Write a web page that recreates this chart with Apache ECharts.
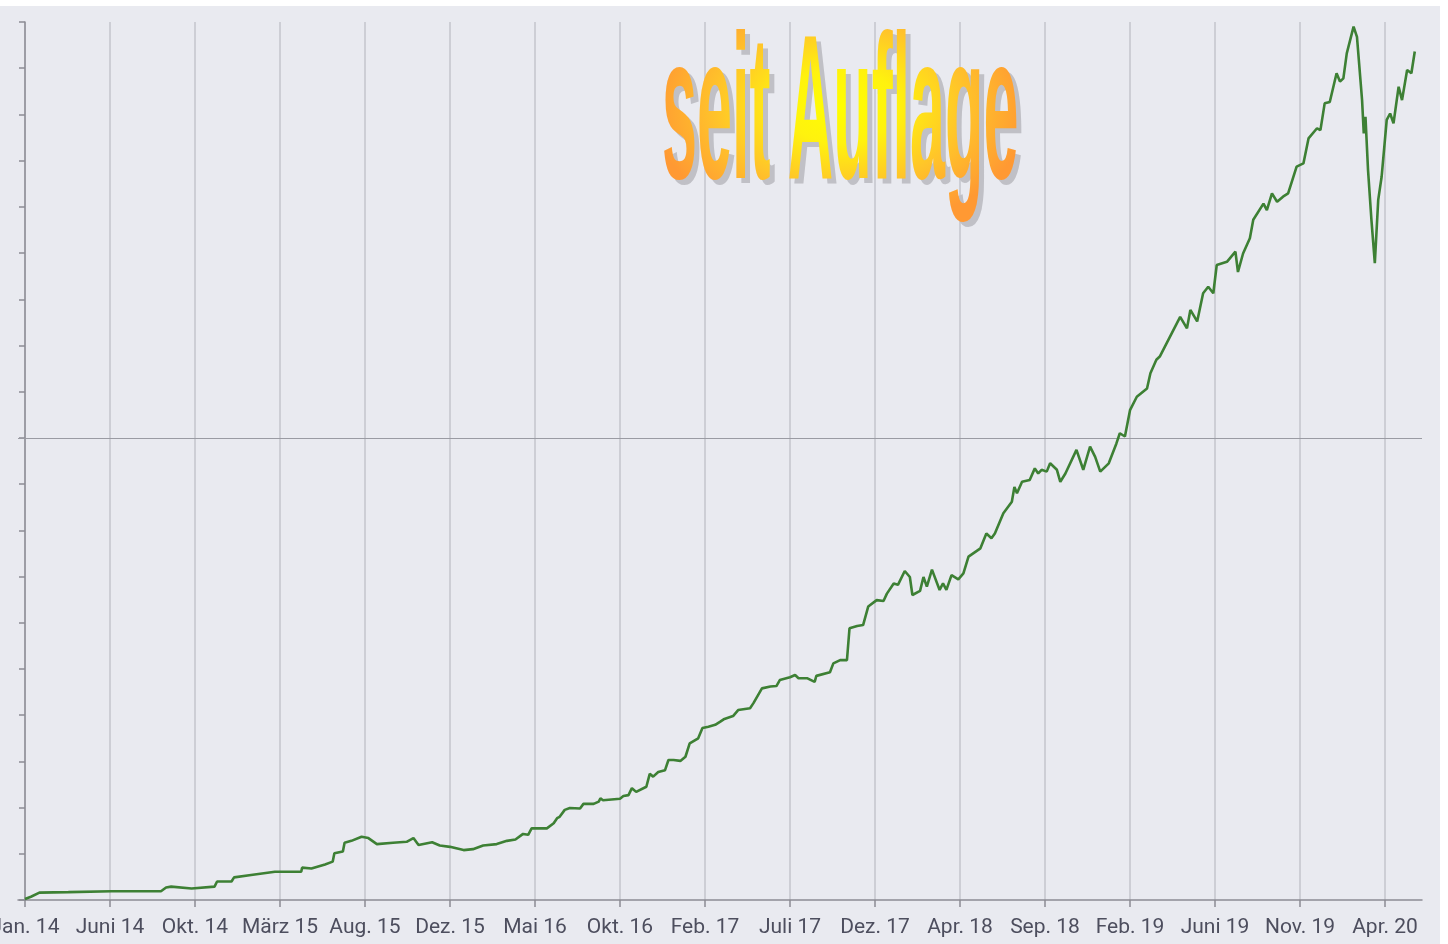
<!DOCTYPE html>
<html>
<head>
<meta charset="utf-8">
<script src="https://cdn.jsdelivr.net/npm/echarts@6/dist/echarts.min.js"></script>
<style>
html,body{margin:0;padding:0;background:#ffffff;width:1448px;height:944px;overflow:hidden;}
#c{position:absolute;left:0;top:6px;width:1440px;height:938px;}
</style>
</head>
<body>
<div id="c"></div>
<script>
// tick labels of the x axis (evenly spaced, one every 100 index units)
const tickLabels = ['Jan. 14','Juni 14','Okt. 14','März 15','Aug. 15','Dez. 15','Mai 16','Okt. 16','Feb. 17','Juli 17','Dez. 17','Apr. 18','Sep. 18','Feb. 19','Juni 19','Nov. 19','Apr. 20'];
const tickValues = [0,100,200,300,400,500,600,700,800,900,1000,1100,1200,1300,1400,1500,1600];
// performance since inception (%)
const xs = [0,7,17,51,102,160,166,172,196,223,
226,243,246,266,294,325,326,337,353,362,
364,374,376,384,396,404,414,433,449,457,
463,479,488,500,516,527,539,555,567,577,
586,592,596,614,622,626,629,635,641,653,
657,669,675,677,680,700,704,710,714,719,
731,735,739,745,753,757,763,771,777,782,
792,797,804,812,818,822,833,839,853,857,
867,877,884,888,900,906,910,920,929,931,
947,951,959,967,970,979,986,992,1002,1010,
1014,1022,1027,1035,1041,1044,1053,1057,1061,1067,
1076,1080,1084,1090,1098,1104,1110,1124,1131,1137,
1141,1151,1161,1164,1167,1173,1182,1188,1192,1196,
1202,1206,1214,1218,1224,1237,1245,1253,1259,1265,
1275,1284,1288,1294,1300,1308,1320,1324,1331,1335,
1359,1367,1371,1379,1386,1392,1398,1402,1414,1424,
1427,1433,1441,1445,1457,1461,1467,1473,1480,1486,
1496,1504,1510,1520,1524,1529,1535,1543,1547,1551,
1555,1563,1567,1573,1575,1577,1580,1584,1588,1592,
1596,1602,1606,1610,1616,1620,1626,1631,1635];
const ys = [0.2,0.7,1.6,1.7,1.9,1.9,2.7,2.9,2.5,2.9,
4.0,4.0,4.9,5.4,6.1,6.1,7.0,6.8,7.7,8.3,
10.1,10.5,12.4,12.8,13.7,13.4,12.1,12.4,12.6,13.4,
11.9,12.5,11.8,11.5,10.8,11.0,11.8,12.1,12.8,13.1,
14.3,14.1,15.5,15.5,16.6,17.7,18.0,19.5,19.9,19.8,
20.8,20.8,21.3,22.0,21.6,21.9,22.5,22.7,24.2,23.4,
24.5,27.3,26.7,27.7,28.1,30.3,30.3,30.1,31.0,33.9,
35.0,37.2,37.5,37.9,38.6,39.1,39.8,41.1,41.5,42.6,
45.8,46.2,46.3,47.6,48.2,48.7,48.0,48.0,47.2,48.5,
49.3,51.2,51.9,51.9,58.8,59.3,59.5,63.5,64.9,64.7,
66.3,68.5,68.2,71.2,69.9,66.0,66.9,69.9,67.8,71.5,
67.1,68.5,67.1,70.3,69.4,70.7,74.3,76.1,79.3,78.3,
79.3,83.7,86.2,89.4,88.0,90.5,90.9,93.4,92.3,93.1,
92.7,94.5,93.1,90.5,92.3,97.4,93.1,98.1,95.9,92.7,
94.5,98.8,101.0,100.3,106.0,108.9,110.7,114.0,116.9,117.6,
126.2,123.7,127.7,125.2,131.3,132.7,131.3,137.4,138.1,140.3,
135.9,139.9,143.2,147.2,150.7,149.3,152.9,151.1,152.2,152.9,
158.7,159.4,164.8,167.0,166.6,172.4,172.7,178.9,177.1,177.8,
183.2,189.0,186.8,173.1,165.9,169.5,158.0,147.2,137.8,151.5,
156.5,168.8,170.2,168.1,176.0,173.1,179.6,178.9,183.6];
const refLevel = 100;
const titleText = 'seit Auflage';

const seriesData = xs.map((x, i) => [x, ys[i]]);

const titleFont = 'bold 80px "Liberation Sans", Arial, sans-serif';
const titleX = 662, titleY = 115, titleSX = 0.786, titleSY = 2.58;

const chart = echarts.init(document.getElementById('c'), null, {renderer: 'canvas'});
chart.setOption({
  backgroundColor: '#e9eaf0',
  animation: false,
  grid: {left: 18, right: 18, top: 16, bottom: 44, containLabel: false, outerBoundsMode: 'none'},
  xAxis: {
    type: 'value',
    min: -8.2,
    max: 1643.5,
    axisLine: {show: true, lineStyle: {color: '#8c8c94', width: 1.5}},
    axisTick: {show: true, customValues: tickValues, length: 7, lineStyle: {color: '#8c8c94', width: 1.5}},
    axisLabel: {
      show: true, customValues: tickValues, margin: 17, hideOverlap: false,
      showMinLabel: true, showMaxLabel: true,
      fontFamily: 'Roboto', fontSize: 21, color: '#4d4e5e',
      formatter: v => tickLabels[Math.round(v / 100)]
    },
    splitLine: {show: true, lineStyle: {color: '#c3c4cc', width: 1.5}}
  },
  yAxis: {
    type: 'value',
    min: 0, max: 190, interval: 10,
    axisLine: {show: true, lineStyle: {color: '#8c8c94', width: 1.5}},
    axisTick: {show: true, inside: false, length: 6, lineStyle: {color: '#8c8c94', width: 1.5}},
    axisLabel: {show: false},
    splitLine: {show: false}
  },
  series: [{
    type: 'line',
    data: seriesData,
    showSymbol: false,
    symbol: 'none',
    lineStyle: {color: '#3d8034', width: 2.6},
    z: 5,
    markLine: {
      silent: true,
      symbol: 'none',
      label: {show: false},
      lineStyle: {color: '#9a9ba3', width: 1.2, type: 'solid'},
      data: [{yAxis: refLevel}],
      z: 1
    }
  }],
  graphic: {
    elements: [
      {
        // drop shadow of the title
        type: 'text', silent: true,
        x: titleX + 5, y: titleY + 5, scaleX: titleSX, scaleY: titleSY,
        z: 50, zlevel: 0,
        style: {text: titleText, font: titleFont, verticalAlign: 'middle', align: 'left', fill: '#c0c0c6'}
      },
      {
        type: 'text', silent: true,
        x: titleX, y: titleY, scaleX: titleSX, scaleY: titleSY,
        z: 1, zlevel: 2,
        style: {text: titleText, font: titleFont, verticalAlign: 'middle', align: 'left', fill: '#ff9933'}
      },
      {
        // gradient painted only onto the title glyphs (source-atop on the title layer)
        type: 'rect', silent: true,
        x: 840, y: 100, scaleX: 1.9, scaleY: 1.25,
        z: 2, zlevel: 2,
        shape: {x: -100, y: -100, width: 200, height: 200},
        style: {
          blend: 'source-atop',
          fill: new echarts.graphic.RadialGradient(0.5, 0.5, 0.5, [
            {offset: 0, color: '#ffff00'},
            {offset: 0.3, color: '#fff20e'},
            {offset: 0.65, color: '#ffc42a'},
            {offset: 1, color: '#ff9933'}
          ])
        }
      }
    ]
  }
});
</script>
</body>
</html>
